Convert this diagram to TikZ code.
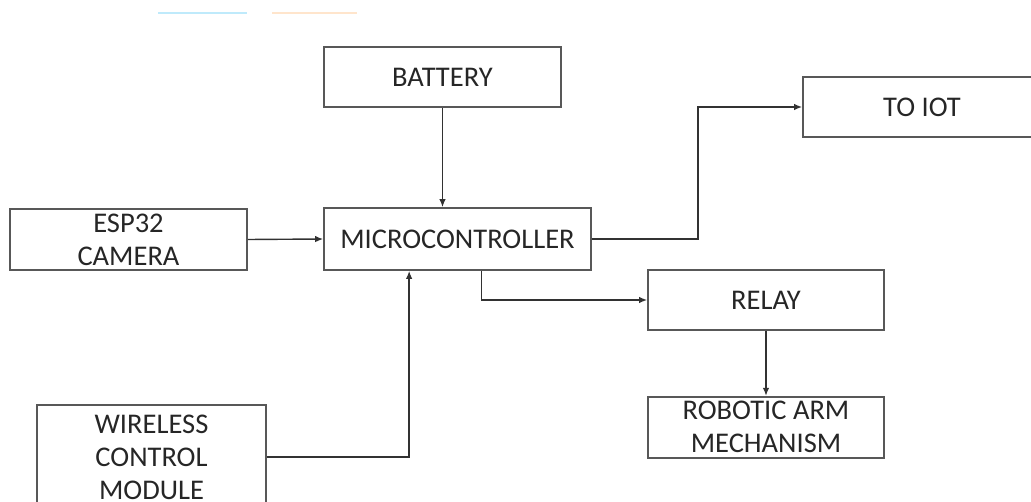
\documentclass[tikz,border=0pt]{standalone}
\usepackage{fontspec}
\setmainfont{Carlito}
\usepackage{xcolor}
\usetikzlibrary{arrows.meta,positioning,calc}
\definecolor{boxgray}{RGB}{88,88,88}
\definecolor{textgray}{RGB}{38,38,38}
\definecolor{wiregray}{RGB}{50,50,50}

\begin{document}
\begin{tikzpicture}[x=1pt,y=-1pt,
node distance=65pt and 60pt,
block/.style={draw=boxgray,line width=1.7pt,align=center,inner sep=0pt,minimum height=60pt,minimum width=237pt,text=textgray,font=\fontsize{28.5}{33}\selectfont},
arr/.style={-{Latex[length=8pt,width=6.5pt]},draw=wiregray,line width=1.4pt}
]
\useasboundingbox (0,0) rectangle (1031,502);
\clip (0,0) rectangle (1031,502);
% faint marks at the top
\draw[cyan!25,line width=2pt] (158,13)--(247,13);
\draw[orange!20,line width=2pt] (272,13)--(357,13);
\node[block,minimum width=267pt,minimum height=62pt] (mcu) at (457.5,239) {MICROCONTROLLER};
\node[block] (battery) at (442.5,77) {BATTERY};
\node[block,minimum height=61pt] (camera) at (128.5,239.5) {ESP32\\CAMERA};
\node[block,minimum width=229pt,minimum height=104pt] (wireless) at (151.5,457) {WIRELESS\\CONTROL\\MODULE};
\node[block,minimum width=238pt] (iot) at (922,107) {TO IOT};
\node[block,minimum width=236pt] (relay) at (766,300) {RELAY};
\node[block,minimum width=236pt,minimum height=61pt,below=of relay] (arm) {ROBOTIC ARM\\MECHANISM};
\coordinate (mcuin) at ($(mcu.south west)+(86,0)$);
\coordinate (mcuout) at ($(mcu.south)+(24,0)$);
\draw[arr] (battery.south)--(battery.south |- mcu.north);
\draw[arr] (camera.east)--(mcu.west);
\draw[arr] (wireless.east)-|(mcuin);
\draw[arr] (mcu.east)--++(106,0)|-(iot.west);
\draw[arr] (mcuout)|-(relay.west);
\draw[arr] (relay.south)--(arm.north);
\end{tikzpicture}
\end{document}
